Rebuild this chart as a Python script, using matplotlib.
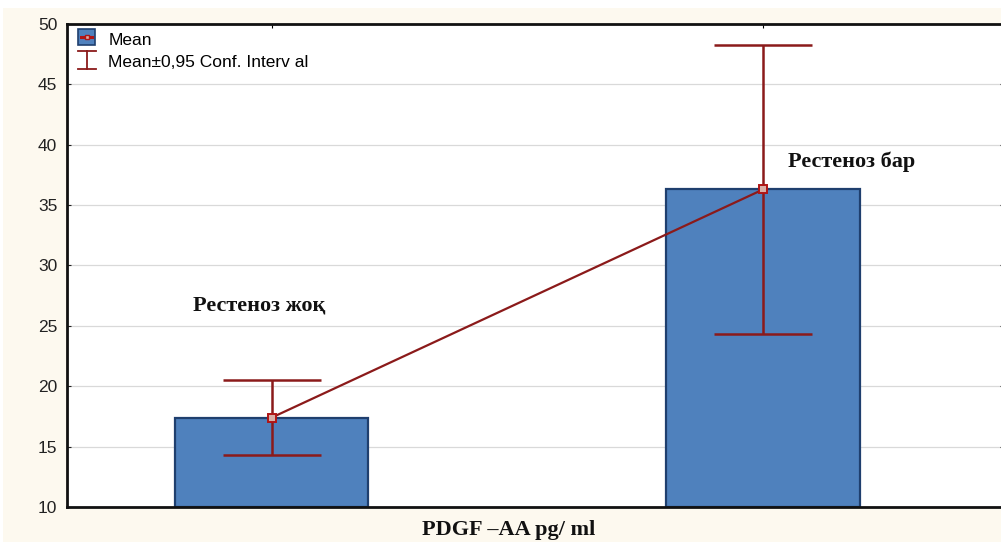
import matplotlib
matplotlib.use("Agg")
import matplotlib.pyplot as plt
from matplotlib.lines import Line2D
from matplotlib.patches import Rectangle
from matplotlib.legend_handler import HandlerBase

# Data
groups = ["Рестеноз жоқ", "Рестеноз бар"]
positions = [1, 2]
means = [17.4, 36.3]
ci_low = [14.3, 24.3]
ci_high = [20.5, 48.3]
yticks = [10, 15, 20, 25, 30, 35, 40, 45, 50]
legend_labels = ["Mean", "Mean±0,95 Conf. Interv al"]

bar_color = "#4f81bd"
bar_edge = "#1f3f6e"
err_color = "#8b1a1a"
bg = "#fdf9ef"


class MeanKey:
    pass


class CIKey:
    pass


class MeanHandler(HandlerBase):
    """Blue square with a red mean marker through it."""
    def create_artists(self, legend, orig_handle, xd, yd, w, h, fontsize, trans):
        s = h * 1.15
        x0 = xd + (w - s) / 2
        y0 = yd + (h - s) / 2
        sq = Rectangle((x0, y0), s, s, facecolor=bar_color, edgecolor=bar_edge,
                       linewidth=1.2, transform=trans)
        ln = Line2D([x0 + s * 0.15, x0 + s * 0.85], [y0 + s / 2] * 2,
                    color="#b01515", linewidth=2.2, transform=trans)
        mk = Line2D([x0 + s / 2], [y0 + s / 2], marker="s", markersize=3.5,
                    markerfacecolor="#d9b0a8", markeredgecolor="#b01515",
                    transform=trans)
        return [sq, ln, mk]


class CIHandler(HandlerBase):
    """Whisker with caps, as drawn for the confidence interval."""
    def create_artists(self, legend, orig_handle, xd, yd, w, h, fontsize, trans):
        cx = xd + w / 2
        half = w * 0.4
        y_lo = yd - h * 0.2
        y_hi = yd + h * 1.05
        kw = dict(color=err_color, linewidth=1.3, transform=trans)
        return [Line2D([cx, cx], [y_lo, y_hi], **kw),
                Line2D([cx - half, cx + half], [y_lo, y_lo], **kw),
                Line2D([cx - half, cx + half], [y_hi, y_hi], **kw)]


fig = plt.figure(figsize=(10.01, 5.42), dpi=100, facecolor=bg)
fig.patches.append(Rectangle((0, 1 - 8 / 542), 1, 8 / 542, facecolor="white",
                             edgecolor="none", transform=fig.transFigure))
fig.patches.append(Rectangle((0, 0), 3 / 1001, 1, facecolor="white",
                             edgecolor="none", transform=fig.transFigure))

ax = fig.add_axes([0.0669, 0.0646, 0.9361, 0.8911])
ax.set_facecolor("white")

ax.bar(positions, [m - 10 for m in means], bottom=10, width=0.394,
       color=bar_color, edgecolor=bar_edge, linewidth=1.6, zorder=2)

yerr = [[m - lo for m, lo in zip(means, ci_low)],
        [hi - m for m, hi in zip(means, ci_high)]]
ax.errorbar(positions, means, yerr=yerr, fmt="none", ecolor=err_color,
            elinewidth=1.8, capsize=35, capthick=1.8, zorder=3)
ax.plot(positions, means, color=err_color, linewidth=1.6, zorder=4)
ax.plot(positions, means, linestyle="none", marker="s", markersize=6,
        markerfacecolor="#d9b0a8", markeredgecolor="#b01515",
        markeredgewidth=1.4, zorder=5)

ax.set_xlim(0.5837, 2.49)
ax.set_ylim(10, 50)
ax.set_yticks(yticks)
ax.set_xticks(positions)
ax.set_xticklabels(["", ""])
ax.yaxis.grid(True, color="#d9d9d9", linewidth=0.9, zorder=0)
ax.set_axisbelow(True)
ax.tick_params(axis="y", direction="in", length=3, labelsize=12.5,
               right=True, pad=7, colors="#222222")
ax.tick_params(axis="x", direction="in", length=3, top=True)
for lab in ax.get_yticklabels():
    lab.set_fontfamily("Liberation Sans")
for side in ["top", "bottom", "left"]:
    ax.spines[side].set_linewidth(2.0)
    ax.spines[side].set_color("#111111")
ax.spines["right"].set_visible(False)

serif = {"family": "Liberation Serif", "weight": "bold", "size": 16}
ax.text(0.975, 26.7, groups[0], ha="center", va="center", fontdict=serif,
        color="#111111")
ax.text(2.18, 38.6, groups[1], ha="center", va="center", fontdict=serif,
        color="#111111")
ax.set_xlabel("PDGF –AA pg/ ml", fontdict=serif, color="#111111")
ax.xaxis.set_label_coords(0.471, -0.027)

ax.legend([MeanKey(), CIKey()], legend_labels,
          handler_map={MeanKey: MeanHandler(), CIKey: CIHandler()},
          loc="upper left", bbox_to_anchor=(-0.004, 1.008),
          frameon=False, handlelength=1.3, handleheight=0.9,
          handletextpad=0.6, borderaxespad=0.3, labelspacing=0.3,
          prop={"family": "Liberation Sans", "size": 12.5})

fig.savefig("out.png", dpi=100, facecolor=bg)
